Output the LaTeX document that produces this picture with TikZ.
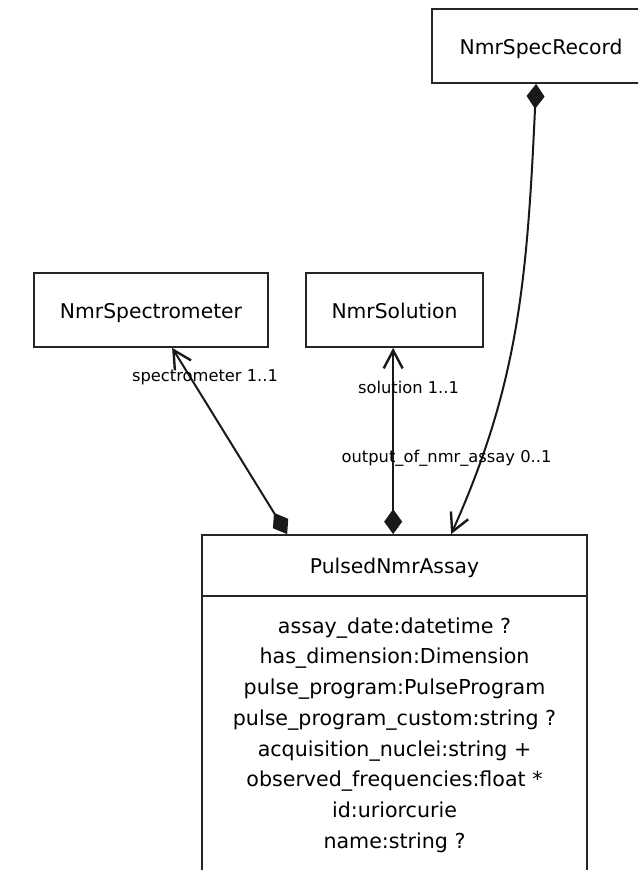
\documentclass[tikz,border=0pt]{standalone}
\usepackage{fontspec}
\setmainfont{DejaVu Sans}
\usetikzlibrary{arrows.meta,calc}
\begin{document}
\begin{tikzpicture}[x=1pt,y=-1pt,
  classbox/.style={draw=black!85, line width=1.7pt, fill=white, inner sep=0pt,
    text height=16pt, text depth=0pt, font=\fontsize{20.3}{24}\selectfont},
  attrbox/.style={draw=black!85, line width=1.7pt, fill=white, inner sep=0pt,
    align=center, font=\fontsize{20.6}{30.7}\selectfont},
  rolelabel/.style={anchor=base, inner sep=0pt, font=\fontsize{16.3}{20}\selectfont},
  conn/.style={line width=2pt, draw=black!90, line join=miter},
  comp/.style={conn, {Diamond[length=25pt,width=18pt]}-{Straight Barb[length=18pt,width=19pt,line width=2.4pt]}}]
\clip (0,0) rectangle (638,870);
\fill[white] (0,0) rectangle (638,870);
% classes
\node[classbox, minimum width=218pt, minimum height=74pt] (rec) at (541,46) {NmrSpecRecord};
\node[classbox, minimum width=234pt, minimum height=74pt] (spec) at (151,310) {NmrSpectrometer};
\node[classbox, minimum width=177pt, minimum height=74pt] (sol) at (394.5,310) {NmrSolution};
\node[classbox, minimum width=385pt, minimum height=61pt] (title) at (394.5,565.5) {PulsedNmrAssay};
\node[attrbox, minimum width=385pt, minimum height=278pt] (attrs) at (394.5,735)
  {assay\_date:datetime ?\\
   has\_dimension:Dimension\\
   pulse\_program:PulseProgram\\
   pulse\_program\_custom:string ?\\
   acquisition\_nuclei:string +\\
   observed\_frequencies:float *\\
   id:uriorcurie\\
   name:string ?};
% connectors
\draw[comp] ($(title.north west)+(86,0)$) -- ($(spec.south west)+(139,0)$);
\draw[comp] ($(title.north west)+(192,0)$) -- ($(sol.south west)+(88,0)$);
\draw[comp] ($(rec.south west)+(105,0)$) .. controls (527,283) and (518,385) .. ($(title.north west)+(250,0)$);
% role labels
\node[rolelabel] (l1) at (205,381) {spectrometer 1..1};
\node[rolelabel] (l2) at (408.5,393) {solution 1..1};
\node[rolelabel] (l3) at (446.5,462) {output\_of\_nmr\_assay 0..1};
\end{tikzpicture}
\end{document}
